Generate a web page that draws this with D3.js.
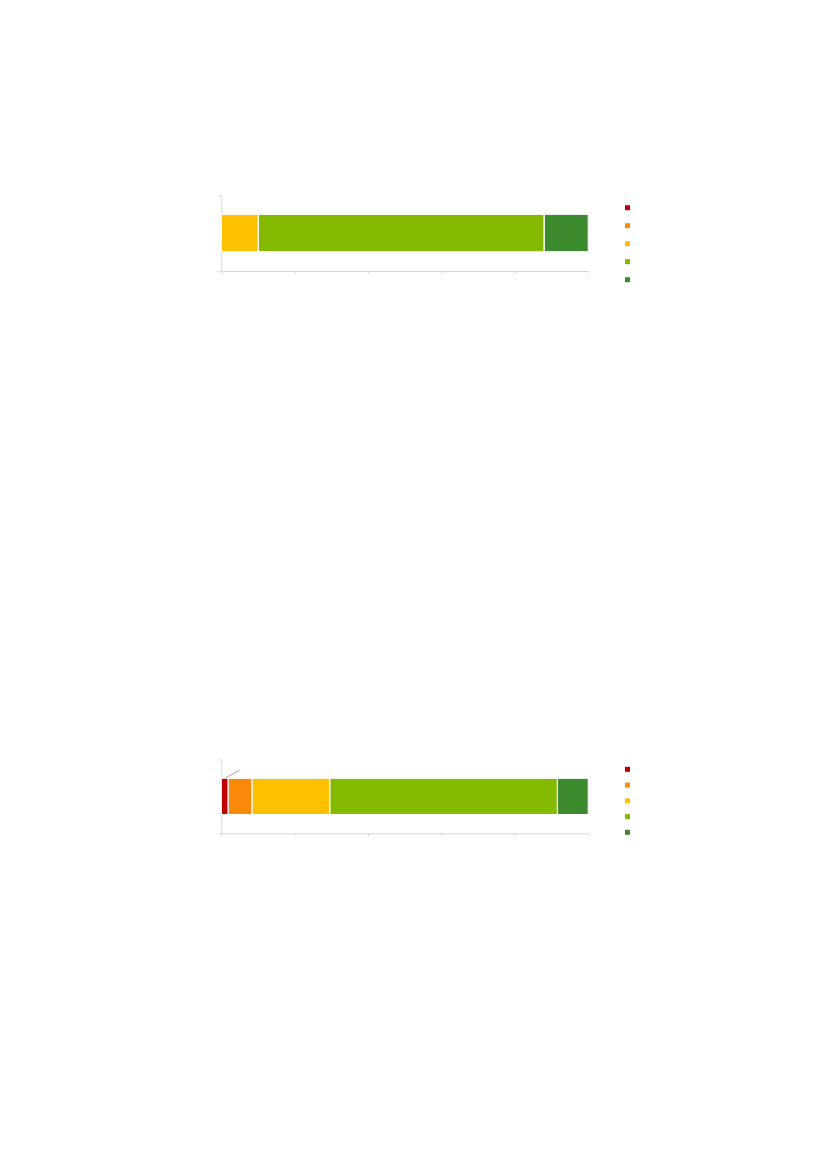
<!DOCTYPE html>
<html>
<head>
<meta charset="utf-8">
<script src="https://cdn.jsdelivr.net/npm/d3@7"></script>
<style>
  body { margin: 0; background: #fff; }
</style>
</head>
<body>
<div id="page"></div>
<script>
// series order (left to right in the bars, top to bottom in legends)
const seriesKeys = ["s1", "s2", "s3", "s4", "s5"];
const seriesColors = ["#c00000", "#fb8a0a", "#ffc000", "#84bb00", "#3c8a2e"];

// share of each series, percent
const chartTopValues = [0, 0, 10.1, 77.9, 12.0];
const chartBottomValues = [1.9, 6.5, 21.2, 62.0, 8.4];

const xTicks = [0, 20, 40, 60, 80, 100];

const width = 827, height = 1169;

const svg = d3.select("#page").append("svg")
  .attr("width", width)
  .attr("height", height)
  .attr("viewBox", [0, 0, width, height])
  .style("font-family", "Liberation Sans, Arial, sans-serif");

const color = d3.scaleOrdinal().domain(seriesKeys).range(seriesColors);

function drawChart(values, opt) {
  const row = {};
  seriesKeys.forEach((k, i) => row[k] = values[i]);
  const stacked = d3.stack().keys(seriesKeys)([row]);

  const x = d3.scaleLinear().domain([0, 100]).range([221.3, 588.3]);
  const y = d3.scaleBand().domain(["a"]).range([opt.top, opt.bottom]).padding(opt.pad);
  const yEdge = d3.scaleLinear().domain([0, 1]).range([opt.bottom, opt.top]);

  const g = svg.append("g");

  // bottom axis
  const xAxis = g.append("g")
    .attr("transform", `translate(0,${opt.bottom})`)
    .call(d3.axisBottom(x).tickValues(xTicks).tickSize(3).tickSizeOuter(0).tickFormat(""));

  // left axis, ticks at category edges
  const yAxis = g.append("g")
    .attr("transform", `translate(${x(0)},0)`)
    .call(d3.axisLeft(yEdge).tickValues([0, 1]).tickSize(3).tickSizeOuter(0).tickFormat(""));

  [xAxis, yAxis].forEach(a => {
    a.selectAll("path, line").attr("stroke", "#d9d9d9").attr("stroke-width", 1);
  });

  // segments
  g.selectAll("rect.seg")
    .data(stacked.filter(s => s[0][1] - s[0][0] > 0))
    .join("rect")
      .attr("class", "seg")
      .attr("x", s => x(s[0][0]))
      .attr("y", y("a"))
      .attr("width", s => x(s[0][1]) - x(s[0][0]))
      .attr("height", y.bandwidth())
      .attr("fill", s => color(s.key))
      .attr("stroke", "#fff")
      .attr("stroke-width", 1.2);

  // leader line for the thin first segment
  if (opt.leader) {
    const first = stacked[0][0];
    g.append("line")
      .attr("x1", x((first[0] + first[1]) / 2) + 1)
      .attr("y1", y("a") - 0.5)
      .attr("x2", x(5))
      .attr("y2", y("a") - 8)
      .attr("stroke", "#a6a6a6")
      .attr("stroke-width", 1);
  }

  // legend
  const ly = d3.scalePoint().domain(seriesKeys).range(opt.legend);
  g.selectAll("rect.key")
    .data(seriesKeys)
    .join("rect")
      .attr("class", "key")
      .attr("x", 625)
      .attr("y", d => ly(d) - 2.5)
      .attr("width", 5)
      .attr("height", 5)
      .attr("fill", d => color(d));
}

drawChart(chartTopValues, { top: 195, bottom: 271, pad: 0.34, legend: [207.7, 279.7] });
drawChart(chartBottomValues, { top: 759.5, bottom: 833.3, pad: 0.34, legend: [769.3, 832.3], leader: true });
</script>
</body>
</html>
